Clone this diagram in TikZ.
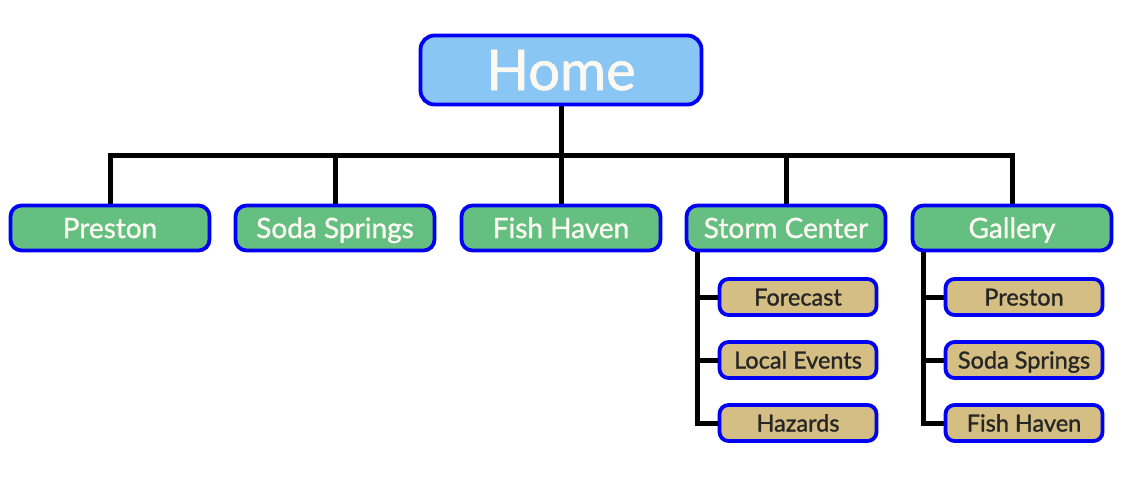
\documentclass[tikz,border=0pt]{standalone}
\usepackage{fontspec}
\setmainfont{Lato}[FakeBold=1.2]
\usepackage{tikz}
\usetikzlibrary{backgrounds}

\definecolor{homeblue}{HTML}{8AC6F3}
\definecolor{navgreen}{HTML}{64BF80}
\definecolor{subtan}{HTML}{D4BE83}
\definecolor{edgeblue}{HTML}{0000F5}
\definecolor{labelwhite}{HTML}{FCF8F2}

\begin{document}
\begin{tikzpicture}[x=1pt,y=-1pt,
  box/.style={draw=edgeblue,line width=3.8pt,rounded corners=11pt,inner sep=0pt,text depth=0pt},
  home/.style={box,fill=homeblue,text=labelwhite,minimum width=281pt,minimum height=69pt,rounded corners=14pt,text height=40pt,font=\fontsize{56}{56}\selectfont},
  section/.style={box,fill=navgreen,text=labelwhite,minimum width=199pt,minimum height=45pt,text height=20pt,font=\fontsize{28}{28}\selectfont},
  subpage/.style={box,fill=subtan,text=black!85,minimum width=157pt,minimum height=36pt,rounded corners=9pt,text height=17pt,font=\fontsize{23.5}{23.5}\selectfont},
  link/.style={line width=5pt}]
 \useasboundingbox (0,0) rectangle (1123,477);
 % ---- top level
 \node[home] (home) at (561,70) {Home};
 \node[section] (preston) at (110,228) {Preston};
 \node[section] (soda) at (335,228) {Soda Springs};
 \node[section] (fish) at (561,228) {Fish Haven};
 \node[section] (storm) at (786,228) {Storm Center};
 \node[section] (gallery) at (1012,228) {Gallery};
 % ---- second level
 \node[subpage] (forecast) at (798,297) {Forecast};
 \node[subpage] (localev) at (798,360) {Local Events};
 \node[subpage] (hazards) at (798,423) {Hazards};
 \node[subpage] (galpreston) at (1024,297) {Preston};
 \node[subpage] (galsoda) at (1024,360) {Soda Springs};
 \node[subpage] (galfish) at (1024,423) {Fish Haven};
 % ---- connectors
 \begin{scope}[on background layer]
  \coordinate (bus) at (561,155);
  \draw[link] (home.south) -- (bus);
  \draw[link] (preston.north) |- (bus) -| (gallery.north);
  \foreach \s in {soda,fish,storm} \draw[link] (\s.north) -- (\s.north |- bus);
  \coordinate (stormtrunk) at ([xshift=-20pt]forecast.west |- storm.south);
  \draw[link] (stormtrunk) |- (hazards.west);
  \foreach \s in {forecast,localev} \draw[link] (stormtrunk |- \s.west) -- (\s.west);
  \coordinate (galtrunk) at ([xshift=-20pt]galpreston.west |- gallery.south);
  \draw[link] (galtrunk) |- (galfish.west);
  \foreach \s in {galpreston,galsoda} \draw[link] (galtrunk |- \s.west) -- (\s.west);
 \end{scope}
\end{tikzpicture}
\end{document}
